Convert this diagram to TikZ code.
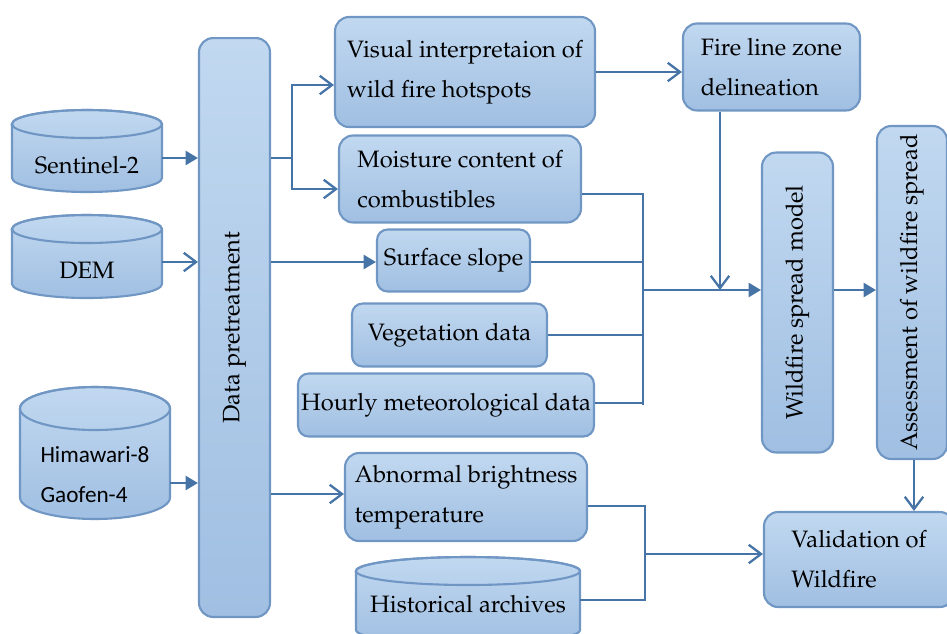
\documentclass[tikz,border=0pt]{standalone}
\usepackage{fontspec}
\newfontfamily\satfont{Carlito}
\usepackage[T1]{fontenc}
\usepackage{mathpazo}
\usepackage{graphicx}
\usepackage{tikz}
\usetikzlibrary{arrows.meta, positioning, calc}
\pgfdeclarelayer{background}
\pgfsetlayers{background,main}
\definecolor{linkblue}{RGB}{70,116,166}
\definecolor{edgeblue}{RGB}{112,150,196}
\definecolor{filltop}{RGB}{193,216,240}
\definecolor{fillbot}{RGB}{160,191,226}
\newcommand{\diagfont}{\fontsize{13.5}{22.8}\selectfont}
\tikzset{
  procbox/.style={rectangle, draw=edgeblue, top color=filltop, bottom color=fillbot,
    rounded corners=8pt, line width=1.2pt, align=left, inner sep=0pt, font=\diagfont},
  datastore/.style={rectangle, inner sep=0pt, outer sep=0pt, align=left, font=\diagfont},
  storebody/.style={draw=edgeblue, line width=1.2pt, top color=filltop, bottom color=fillbot},
  storelid/.style={draw=edgeblue, line width=1.2pt},
  link/.style={line width=1.3pt, draw=linkblue},
  fillarrow/.style={link, -{Triangle[length=7pt, width=8pt]}},
  openarrow/.style={link, -{Straight Barb[length=7pt, width=10.5pt]}}
}

\begin{document}
\begin{tikzpicture}[x=0.02cm, y=-0.02cm]
  \useasboundingbox (0,0) rectangle (947,633);

  % Data sources (text part of each cylinder)
  \node[datastore, minimum width=3cm, minimum height=1.08cm] (s2) at (87,165) {Sentinel-2};
  \node[datastore, minimum width=3cm, minimum height=1.1cm] (dem) at (87,270.5) {DEM};
  \node[datastore, minimum width=3cm, minimum height=1.78cm,
        font=\satfont\fontsize{13.2}{22.8}\selectfont] (hima) at (95,474.5) {Himawari-8\\Gaofen-4};
  \node[datastore, minimum width=4.48cm, minimum height=1.18cm, text depth=0.44cm] (hist)
    at (468,614.5) {Historical archives};

  % Cylinder bodies behind the texts
  \begin{pgfonlayer}{background}
    \foreach \ds/\rx/\lid in {s2/75/14, dem/75/14, hima/75/21.5, hist/112/14} {
      \draw[storebody] ($(\ds.north west)+(0,-\lid)$) -- ($(\ds.south west)+(0,-\lid)$)
        arc[start angle=180, end angle=0, x radius=\rx, y radius=\lid]
        -- ($(\ds.north east)+(0,-\lid)$)
        arc[start angle=0, end angle=-180, x radius=\rx, y radius=\lid] -- cycle;
      \draw[storelid] ($(\ds.north)+(0,-\lid)$) ellipse[x radius=\rx, y radius=\lid];
    }
  \end{pgfonlayer}

  % Pretreatment
  \node[procbox, minimum width=1.42cm, minimum height=11.58cm] (dp) at (234.5,327.5)
    {\rotatebox{90}{Data pretreatment}};

  % Intermediate products
  \node[procbox, minimum width=5.2cm, minimum height=2.2cm] (vis) at (465,72)
    {Visual interpretaion of\\wild fire hotspots};
  \node[procbox, minimum width=4.84cm, minimum height=1.74cm] (moist) at (460,179)
    {Moisture content of\\combustibles};
  \node[procbox, rounded corners=6pt, minimum width=3.06cm, minimum height=1.24cm] (slope)
    at (453.5,260.5) {Surface slope};
  \node[procbox, rounded corners=6pt, minimum width=3.9cm, minimum height=1.26cm] (veg)
    at (449.5,335) {Vegetation data};
  \node[procbox, rounded corners=6pt, minimum width=5.92cm, minimum height=1.26cm] (hourly)
    at (446,405) {Hourly meteorological data};
  \node[procbox, minimum width=4.84cm, minimum height=1.76cm] (abn) at (466,497)
    {Abnormal brightness\\temperature};

  % Model and outputs
  \node[procbox, minimum width=3.54cm, minimum height=1.74cm] (fire) at (771.5,67)
    {Fire line zone\\delineation};
  \node[procbox, minimum width=1.42cm, minimum height=6cm] (wsm) at (797.5,302.5)
    {\rotatebox{90}{Wildfire spread model}};
  \node[procbox, minimum width=1.4cm, minimum height=6.66cm] (assess) at (912,292.5)
    {\rotatebox{90}{Assessment of wildfire spread}};
  \node[procbox, minimum width=3.8cm, minimum height=1.9cm] (valid) at (859,559.5)
    {Validation of\\Wildfire};

  % Inputs to pretreatment
  \draw[fillarrow] (s2.east |- 0,158) -- (dp.west |- 0,158);
  \draw[openarrow] (dem.east |- 0,262) -- (dp.west |- 0,262);
  \draw[fillarrow] (hima.east |- 0,483) -- (dp.west |- 0,483);

  % Pretreatment outputs
  \coordinate (split) at (292,158);
  \draw[openarrow] (dp.east |- split) -- (split) |- (vis.west |- 0,85);
  \draw[openarrow] (split) |- (moist.west |- 0,189);
  \draw[fillarrow] (dp.east |- 0,262) -- (slope.west |- 0,262);
  \draw[openarrow] (dp.east |- 0,494) -- (abn.west |- 0,494);
  \draw[openarrow] (vis.east) -- (vis.east -| fire.west);

  % Inputs of the spread model
  \coordinate (busA) at (643,194);
  \coordinate (busB) at (643,405);
  \draw[link] (moist.east |- busA) -- (busA) -- (busB);
  \draw[link] (slope.east |- 0,262) -- (busA |- 0,262);
  \draw[link] (veg.east) -- (veg.east -| busA);
  \draw[link] (hourly.east |- 0,403) -- (busA |- 0,403);
  \draw[fillarrow] (busA |- 0,290) -- (wsm.west |- 0,290);
  \draw[openarrow] (fire.south -| 720,0) -- (720,290);
  \draw[fillarrow] (wsm.east |- 0,290) -- (assess.west |- 0,290);

  % Validation
  \coordinate (busC) at (645,506);
  \coordinate (busD) at (645,600);
  \draw[link] (abn.east |- busC) -- (busC) -- (busD) -- (hist.east |- busD);
  \draw[openarrow] (busC |- 0,554) -- (valid.west |- 0,554);
  \draw[openarrow] (assess.south -| 914,0) -- (valid.north -| 914,0);
\end{tikzpicture}
\end{document}
